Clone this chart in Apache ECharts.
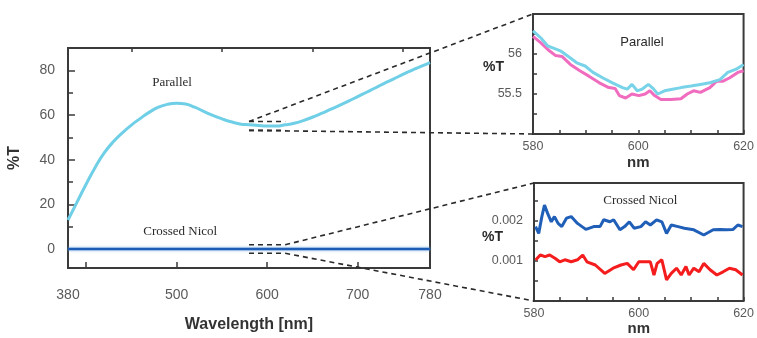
<!DOCTYPE html>
<html>
<head>
<meta charset="utf-8">
<script src="https://cdn.jsdelivr.net/npm/echarts@6/dist/echarts.min.js"></script>
<style>
html,body{margin:0;padding:0;background:#fff;}
#c{width:757px;height:338px;}
</style>
</head>
<body>
<div id="c"></div>
<script>
// ---------- data ----------
var mainWavelength = [380,390,400,410,420,430,440,450,460,470,480,490,500,510,520,530,540,550,560,570,580,590,600,610,620,630,640,650,660,670,680,690,700,710,720,730,740,750,760,770,780];
var mainParallel   = [13,21,29,36.5,43,48,52,55.5,58.5,61.3,63.5,64.8,65.3,64.9,63.5,61.6,59.8,58.3,57,56,55.6,55.3,55.1,55.1,55.6,56.3,57.5,59,60.7,62.5,64.3,66.2,68.2,70.2,72.2,74.3,76.2,78.2,80,81.8,83.5];
var mainCrossedWl  = [380,480,580,680,780];
var mainCrossed    = [0,0,0,0,0];

var cyanWl = [580,581.5,582.8,584,585.2,587.1,588.3,589.9,591.4,593.3,595.1,597,597.9,598.8,599.8,600.7,601.9,602.8,603.7,605,606.5,608.1,610,611.8,613.6,615.5,617,618.6,620];
var cyanT  = [56.29,56.2,56.1,56.07,56.04,55.95,55.89,55.85,55.77,55.7,55.64,55.58,55.56,55.62,55.54,55.56,55.62,55.57,55.5,55.54,55.56,55.58,55.6,55.62,55.64,55.68,55.77,55.81,55.87];
var pinkWl = [580,581.5,583.1,584.3,585.5,587.1,588.9,590.7,592.6,594.4,595.6,596.4,597.6,598.8,600.1,601.3,602.2,603.1,604.3,606.2,608.1,609.3,610.5,611.8,613.6,614.9,616.1,617.3,618.9,620];
var pinkT  = [56.22,56.14,56.04,55.98,55.97,55.87,55.79,55.72,55.64,55.58,55.57,55.48,55.45,55.5,55.48,55.5,55.54,55.48,55.43,55.43,55.44,55.5,55.54,55.52,55.58,55.66,55.66,55.7,55.77,55.79];

var blueWl = [580.3,580.9,581.5,582,582.6,583.3,583.9,584.6,585.3,586.2,587.1,588.3,589.9,591.4,592.6,593.3,594.5,595.2,596.4,597.3,598.2,599.1,600.4,601.3,602.2,603.4,604.4,605.3,606.2,607.5,608.7,610.5,612.4,614.2,615.5,616.7,618,618.9,619.8];
var blueT  = [0.00186,0.00169,0.00211,0.0024,0.00219,0.00198,0.00211,0.00194,0.00186,0.00207,0.00211,0.00194,0.00179,0.00186,0.00186,0.00203,0.00198,0.00203,0.00178,0.00186,0.00198,0.00182,0.00186,0.00198,0.0019,0.00203,0.00198,0.00169,0.0019,0.00186,0.00182,0.00178,0.00165,0.00178,0.00179,0.00178,0.00179,0.0019,0.00186];
var redWl  = [580.3,581.2,582.1,583,584,584.9,585.9,587.1,588.3,589.3,590.1,591.7,593.5,595.1,596.6,597.8,599,600,601.3,602.2,602.9,603.5,604.4,605.3,606.2,607.2,608.1,609,609.6,610.5,611.5,612.4,613.6,614.9,616.1,617.3,618.5,619.8];
var redT   = [0.001025,0.00115,0.00111,0.00115,0.00107,0.00098,0.00103,0.00098,0.00103,0.00115,0.00098,0.0009,0.00069,0.00082,0.0009,0.00094,0.00078,0.00098,0.00098,0.00098,0.00065,0.00094,0.00103,0.00053,0.00069,0.00082,0.00065,0.00086,0.00065,0.00082,0.00073,0.00094,0.00078,0.00065,0.00073,0.00082,0.00078,0.00065];

var mainXLabels = [380,500,600,700,780];
var mainXMajor  = [400,500,600,700];
var mainXMinor  = [450,550,650,750];
var mainYLabels = [0,20,40,60,80];
var mainYMinor  = [10,30,50,70];
var inset1YLabels = [55.5,56];
var inset2YLabels = [0.001,0.002];

var box1 = {x:[580,620], y:[53.1,57.1]};
var box2 = {x:[580,620], y:[-1.9,1.9]};

function pairs(a,b){return a.map(function(v,i){return [v,b[i]];});}

var chart = echarts.init(document.getElementById('c'));
var frame = '#3a3a3a';
var lblColor = '#5a5a5a';
var sans = 'Liberation Sans, Arial, sans-serif';
var serif = 'Liberation Serif, Times New Roman, serif';

function baseX(grid, min, max){
  return {type:'value', gridIndex:grid, min:min, max:max, splitLine:{show:false},
    axisLine:{show:false, onZero:false}, nameMoveOverlap:false,
    axisTick:{inside:true, lineStyle:{color:frame,width:1.5}},
    axisLabel:{color:lblColor, fontFamily:sans}};
}

var option = {
  animation:false,
  grid:[
    {left:68, top:48, width:362, height:222, show:true, borderColor:frame, borderWidth:2, backgroundColor:'transparent'},
    {left:533, top:14, width:216, height:120, show:true, borderColor:frame, borderWidth:2, backgroundColor:'transparent'},
    {left:534, top:183, width:215, height:118, show:true, borderColor:frame, borderWidth:2, backgroundColor:'transparent'}
  ],
  xAxis:[
    Object.assign(baseX(0,380,780), {
      axisTick:{inside:true, length:6, customValues:mainXMajor, lineStyle:{color:frame,width:1.5}},
      axisLabel:{customValues:mainXLabels, color:lblColor, fontFamily:sans, fontSize:14, margin:20},
      name:'Wavelength [nm]', nameLocation:'middle', nameGap:49,
      nameTextStyle:{fontFamily:sans, fontWeight:'bold', fontSize:16, color:'#333'}
    }),
    Object.assign(baseX(0,380,780), {
      axisTick:{inside:true, length:4, customValues:mainXMinor, lineStyle:{color:frame,width:1.5}},
      axisLabel:{show:false}
    }),
    Object.assign(baseX(1,580,620), {
      interval:20,
      axisTick:{inside:true, length:4, lineStyle:{color:frame,width:1.5}},
      minorTick:{show:true, splitNumber:4, length:4, lineStyle:{color:frame,width:1.5}},
      axisLabel:{color:lblColor, fontFamily:sans, fontSize:12.5, margin:6},
      name:'nm', nameLocation:'middle', nameGap:21,
      nameTextStyle:{fontFamily:sans, fontWeight:'bold', fontSize:15, color:'#333'}
    }),
    Object.assign(baseX(2,580,620), {
      interval:20,
      axisTick:{inside:true, length:4, lineStyle:{color:frame,width:1.5}},
      minorTick:{show:true, splitNumber:4, length:4, lineStyle:{color:frame,width:1.5}},
      axisLabel:{color:lblColor, fontFamily:sans, fontSize:12.5, margin:6},
      name:'nm', nameLocation:'middle', nameGap:20,
      nameTextStyle:{fontFamily:sans, fontWeight:'bold', fontSize:15, color:'#333'}
    })
  ],
  yAxis:[
    {type:'value', gridIndex:0, min:-8.5, max:90, splitLine:{show:false}, axisLine:{show:false, onZero:false},
     nameMoveOverlap:false,
     axisTick:{inside:true, length:7, customValues:mainYLabels, lineStyle:{color:frame,width:1.5}},
     axisLabel:{customValues:mainYLabels, color:lblColor, fontFamily:sans, fontSize:14, margin:13},
     name:'%T', nameLocation:'middle', nameGap:45,
     nameTextStyle:{fontFamily:sans, fontWeight:'bold', fontSize:16, color:'#333'}},
    {type:'value', gridIndex:0, min:-8.5, max:90, position:'left', splitLine:{show:false}, axisLine:{show:false, onZero:false},
     axisTick:{inside:true, length:5, customValues:mainYMinor, lineStyle:{color:frame,width:1.5}},
     axisLabel:{show:false}},
    {type:'value', gridIndex:1, min:55, max:56.5, interval:0.5, splitLine:{show:false}, axisLine:{show:false, onZero:false},
     axisTick:{inside:true, length:4, lineStyle:{color:frame,width:1.5}},
     minorTick:{show:true, splitNumber:2, length:4, lineStyle:{color:frame,width:1.5}},
     axisLabel:{color:lblColor, fontFamily:sans, fontSize:12.5, margin:11, padding:[0,0,4,0],
       formatter:function(v){return inset1YLabels.indexOf(v)>=0 ? String(v) : '';}}},
    {type:'value', gridIndex:2, min:0, max:0.00295, interval:0.001, splitLine:{show:false}, axisLine:{show:false, onZero:false},
     axisTick:{inside:true, length:4, lineStyle:{color:frame,width:1.5}},
     minorTick:{show:true, splitNumber:2, length:4, lineStyle:{color:frame,width:1.5}},
     axisLabel:{color:lblColor, fontFamily:sans, fontSize:12.5, margin:11, padding:[0,0,3,0],
       formatter:function(v){
         for (var i=0;i<inset2YLabels.length;i++){ if (Math.abs(v-inset2YLabels[i])<1e-9) return inset2YLabels[i].toFixed(3); }
         return '';}}}
  ],
  series:[
    {type:'line', xAxisIndex:0, yAxisIndex:0, data:pairs(mainCrossedWl, mainCrossed), showSymbol:false,
     lineStyle:{color:'#1e5db5', width:2.5, shadowColor:'rgba(110,170,230,0.9)', shadowBlur:3}, z:3},
    {type:'line', xAxisIndex:0, yAxisIndex:0, data:pairs(mainWavelength, mainParallel), showSymbol:false, smooth:true,
     lineStyle:{color:'#6fcfe6', width:3}, z:4},
    {type:'line', xAxisIndex:2, yAxisIndex:2, data:pairs(pinkWl, pinkT), showSymbol:false,
     lineStyle:{color:'#f06cbf', width:3}},
    {type:'line', xAxisIndex:2, yAxisIndex:2, data:pairs(cyanWl, cyanT), showSymbol:false,
     lineStyle:{color:'#78d3e8', width:3}},
    {type:'line', xAxisIndex:3, yAxisIndex:3, data:pairs(blueWl, blueT), showSymbol:false,
     lineStyle:{color:'#1f5fb8', width:3}},
    {type:'line', xAxisIndex:3, yAxisIndex:3, data:pairs(redWl, redT), showSymbol:false,
     lineStyle:{color:'#f41c1c', width:3}}
  ]
};
chart.setOption(option);

// annotations computed from axis scales
function px(xi, yi, pt){ return chart.convertToPixel({xAxisIndex:xi, yAxisIndex:yi}, pt); }
var dash = {stroke:'#2a2a2a', lineWidth:1.6, lineDash:[5,4]};
function seg(a,b){ return {type:'line', shape:{x1:a[0],y1:a[1],x2:b[0],y2:b[1]}, style:dash, z:50}; }

var b1tl = px(0,0,[box1.x[0], box1.y[1]]), b1tr = px(0,0,[box1.x[1], box1.y[1]]);
var b1bl = px(0,0,[box1.x[0], box1.y[0]]), b1br = px(0,0,[box1.x[1], box1.y[0]]);
var b2tl = px(0,0,[box2.x[0], box2.y[1]]), b2tr = px(0,0,[box2.x[1], box2.y[1]]);
var b2bl = px(0,0,[box2.x[0], box2.y[0]]), b2br = px(0,0,[box2.x[1], box2.y[0]]);
var i1tl = px(2,2,[580,56.5]), i1bl = px(2,2,[580,55]);
var i2tl = px(3,3,[580,0.00295]), i2bl = px(3,3,[580,0]);

function txt(x,y,s,font,align){ return {type:'text', x:x, y:y, style:{text:s, font:font, fill:'#2a2a2a', align:align||'center', verticalAlign:'middle'}, z:60}; }
var pMainPar = px(0,0,[495,74.3]);
var pMainCN = px(0,0,[504,8]);
var pIns1 = px(2,2,[600.7,56.15]);
var pIns2 = px(3,3,[600.3,0.00252]);
var pIns1Y = px(2,2,[580,55.84]);
var pIns2Y = px(3,3,[580,0.0016]);

chart.setOption({graphic:[
  seg(b1tl,b1tr), seg(b1bl,b1br),
  seg(b2tl,b2tr), seg(b2bl,b2br),
  seg(b1tl,i1tl), seg(b1bl,i1bl),
  seg(b2tr,i2tl), seg(b2br,i2bl),
  txt(pMainPar[0], pMainPar[1], 'Parallel', '13px ' + serif),
  txt(pMainCN[0], pMainCN[1], 'Crossed Nicol', '13px ' + serif),
  txt(pIns1[0], pIns1[1], 'Parallel', '13px ' + sans),
  txt(pIns2[0], pIns2[1], 'Crossed Nicol', '13px ' + serif),
  txt(pIns1Y[0]-29, pIns1Y[1], '%T', 'bold 14px ' + sans, 'right'),
  txt(pIns2Y[0]-31, pIns2Y[1], '%T', 'bold 14px ' + sans, 'right')
]});
</script>
</body>
</html>
